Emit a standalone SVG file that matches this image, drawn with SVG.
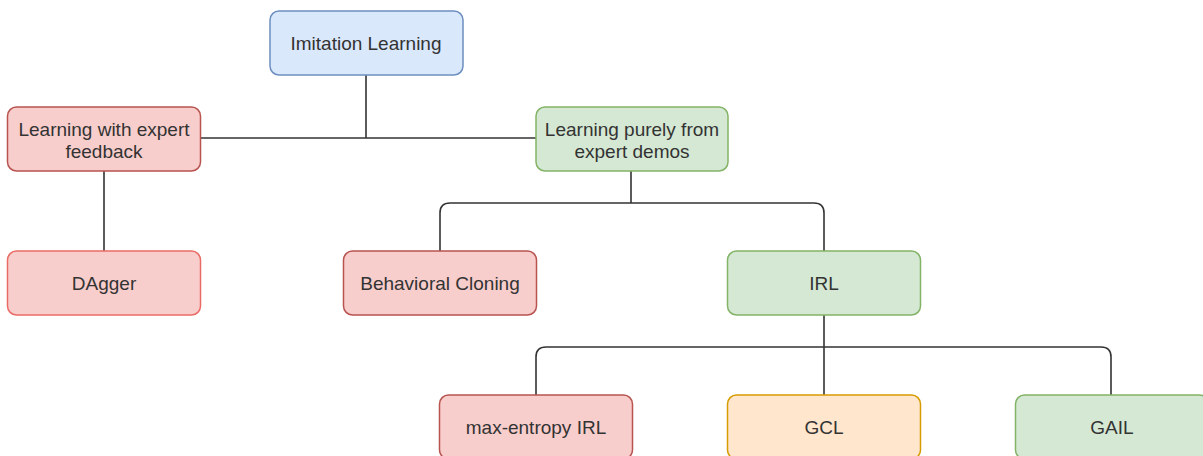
<svg xmlns="http://www.w3.org/2000/svg" width="1203" height="456" viewBox="0 0 1203 456">
  <style>
    .box { stroke-width: 1.5; }
    .blue { fill: #dae8fc; stroke: #6c8ebf; }
    .red { fill: #f8cecc; stroke: #b85450; }
    .red2 { fill: #f8cecc; stroke: #ea6b66; }
    .green { fill: #d5e8d4; stroke: #82b366; }
    .orange { fill: #ffe6cc; stroke: #d79b00; }
    .label { font-family: "Liberation Sans", Arial, sans-serif; font-size: 19px; fill: #333333; text-anchor: middle; }
    .edge { fill: none; stroke: #333333; stroke-width: 1.6; }
  </style>
  <rect width="1203" height="456" fill="#ffffff"/>

  <!-- connectors -->
  <g id="connectors">
    <path class="edge" d="M366 75 V138"/>
    <path class="edge" d="M201 138 H536"/>
    <path class="edge" d="M104 171 V251"/>
    <path class="edge" d="M631 171 V203"/>
    <path class="edge" d="M440 251 V213 Q440 203 450 203 H814 Q824 203 824 213 V251"/>
    <path class="edge" d="M824 315 V395"/>
    <path class="edge" d="M536 395 V357 Q536 347 546 347 H1101 Q1111 347 1111 357 V395"/>
  </g>

  <g id="imitation-learning">
    <rect class="box blue" x="270" y="11" width="193" height="64" rx="9"/>
    <text class="label" x="366" y="49.5">Imitation Learning</text>
  </g>

  <g id="expert-feedback">
    <rect class="box red" x="7.5" y="107" width="193" height="64" rx="9"/>
    <text class="label" x="104" y="136">Learning with expert</text>
    <text class="label" x="104" y="158">feedback</text>
  </g>

  <g id="expert-demos">
    <rect class="box green" x="536" y="107" width="192" height="64" rx="9"/>
    <text class="label" x="632" y="136">Learning purely from</text>
    <text class="label" x="632" y="158">expert demos</text>
  </g>

  <g id="dagger">
    <rect class="box red2" x="7.5" y="251" width="193" height="64" rx="9"/>
    <text class="label" x="104" y="289.5">DAgger</text>
  </g>

  <g id="behavioral-cloning">
    <rect class="box red" x="343.5" y="251" width="193" height="64" rx="9"/>
    <text class="label" x="440" y="289.5">Behavioral Cloning</text>
  </g>

  <g id="irl">
    <rect class="box green" x="727.5" y="251" width="193" height="64" rx="9"/>
    <text class="label" x="824" y="289.5">IRL</text>
  </g>

  <g id="max-entropy-irl">
    <rect class="box red" x="439.5" y="395" width="193" height="64" rx="9"/>
    <text class="label" x="536" y="433.5">max-entropy IRL</text>
  </g>

  <g id="gcl">
    <rect class="box orange" x="727.5" y="395" width="193" height="64" rx="9"/>
    <text class="label" x="824" y="433.5">GCL</text>
  </g>

  <g id="gail">
    <rect class="box green" x="1015.5" y="395" width="193" height="64" rx="9"/>
    <text class="label" x="1112" y="433.5">GAIL</text>
  </g>
</svg>
